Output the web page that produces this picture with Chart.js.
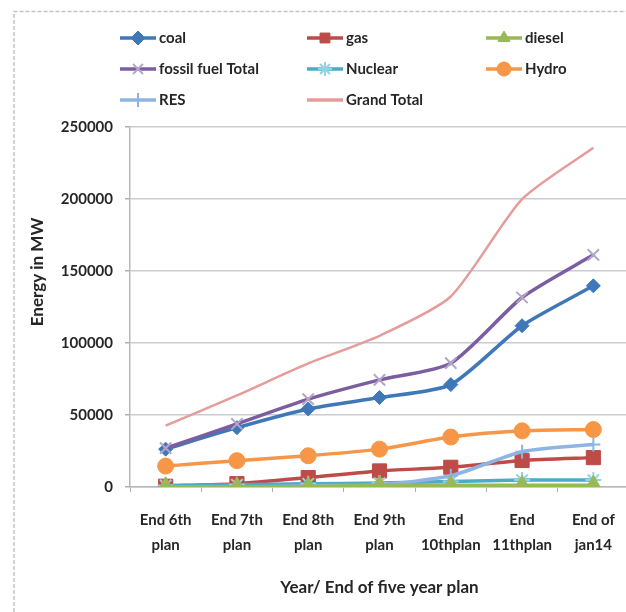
<!DOCTYPE html>
<html>
<head>
<meta charset="utf-8">
<script src="https://cdn.jsdelivr.net/npm/chart.js@4/dist/chart.umd.min.js"></script>
<style>
  html, body { margin: 0; padding: 0; background: #fff; overflow: hidden; }
  #wrap { position: relative; width: 640px; height: 612px; }
</style>
</head>
<body>
<div id="wrap"><canvas id="c"></canvas></div>
<script>
// Installed capacity (MW) at the end of each five year plan
const categories = [
  ['End 6th', 'plan'], ['End 7th', 'plan'], ['End 8th', 'plan'], ['End 9th', 'plan'],
  ['End', '10thplan'], ['End', '11thplan'], ['End of', 'jan14']
];
const coal        = [26300, 41200, 54200, 62100, 71100, 112000, 139700];
const gas         = [540, 2340, 6560, 11160, 13700, 18400, 20400];
const diesel      = [180, 170, 290, 1140, 1200, 1200, 1200];
const fossilTotal = [27000, 43800, 61000, 74400, 86000, 131600, 161200];
const nuclear     = [1100, 1570, 2230, 2720, 3900, 4780, 4780];
const hydro       = [14500, 18300, 21700, 26300, 34700, 39000, 39900];
const res         = [0, 20, 900, 1630, 7760, 24500, 29500];
const grandTotal  = [42600, 63600, 85800, 105000, 132300, 199900, 235600];
const yTicks      = [0, 50000, 100000, 150000, 200000, 250000];

const FONT = 'Lato, "Liberation Sans", sans-serif';
const TEXT = '#262626';

function series(label, data, color, style, radius, markerBorder, order) {
  return {
    label, data,
    borderColor: color,
    backgroundColor: color,
    pointBackgroundColor: color,
    pointBorderColor: markerBorder || color,
    pointBorderWidth: style === 'crossRot' || style === 'star' || style === 'cross' ? 2 : 1,
    pointStyle: style,
    pointRadius: radius,
    pointHoverRadius: radius,
    borderWidth: 3.5,
    tension: 0.22,
    fill: false,
    order
  };
}

// lower order is painted later (on top)
const datasets = [
  series('coal', coal, '#3f78b9', 'rectRot', 7, null, 8),
  series('gas', gas, '#be4b48', 'rect', 10, null, 7),
  series('diesel', diesel, '#98b954', 'triangle', 10, null, 0),
  series('fossil fuel Total', fossilTotal, '#7b5ea0', 'crossRot', 8, '#b3a6c8', 5),
  series('Nuclear', nuclear, '#4bacc6', 'star', 8, '#93d3e3', 4),
  series('Hydro', hydro, '#f79646', 'circle', 8, null, 3),
  series('RES', res, '#8eb4e3', 'cross', 7, null, 2),
  series('Grand Total', grandTotal, '#e59c9a', 'circle', 0, null, 1)
];
datasets[7].borderWidth = 2.5;

// Frame, grid legend and rotated value-axis title
const decorations = {
  id: 'decorations',
  afterDraw(chart) {
    const ctx = chart.ctx;
    ctx.save();
    // dashed outer frame
    ctx.strokeStyle = '#c4c4c4';
    ctx.lineWidth = 1.5;
    ctx.setLineDash([4, 2]);
    ctx.beginPath();
    ctx.moveTo(14, 612);
    ctx.lineTo(14, 11.5);
    ctx.lineTo(640, 11.5);
    ctx.stroke();
    ctx.setLineDash([]);

    // legend: three columns
    const colX = [120, 307, 486];
    const rowY = [38, 69, 100];
    chart.data.datasets.forEach((ds, i) => {
      const x = colX[i % 3], y = rowY[Math.floor(i / 3)];
      ctx.strokeStyle = ds.borderColor;
      ctx.lineWidth = 3.5;
      ctx.beginPath();
      ctx.moveTo(x, y);
      ctx.lineTo(x + 36, y);
      ctx.stroke();
      if (ds.pointRadius > 0 && Chart.helpers && Chart.helpers.drawPoint) {
        ctx.fillStyle = ds.pointBackgroundColor;
        ctx.strokeStyle = ds.pointBorderColor;
        ctx.lineWidth = ds.pointBorderWidth;
        Chart.helpers.drawPoint(ctx, {
          pointStyle: ds.pointStyle,
          radius: Math.min(ds.pointRadius, 7),
          rotation: 0,
          borderWidth: ds.pointBorderWidth
        }, x + 18, y);
      }
      ctx.fillStyle = TEXT;
      ctx.font = 'bold 15px ' + FONT;
      ctx.textBaseline = 'middle';
      ctx.textAlign = 'left';
      ctx.fillText(ds.label, x + 39, y);
    });

    // y-axis title
    ctx.translate(38, 272);
    ctx.rotate(-Math.PI / 2);
    ctx.fillStyle = TEXT;
    ctx.font = 'bold 17px ' + FONT;
    ctx.textAlign = 'center';
    ctx.textBaseline = 'middle';
    ctx.fillText('Energy in MW', 0, 0);
    ctx.restore();
  }
};

new Chart(document.getElementById('c'), {
  type: 'line',
  data: { labels: categories, datasets },
  options: {
    responsive: true,
    maintainAspectRatio: false,
    animation: false,
    layout: { padding: { left: 14, right: 8, top: 127, bottom: 0 } },
    plugins: {
      legend: { display: false },
      tooltip: { enabled: false }
    },
    scales: {
      x: {
        type: 'category',
        offset: true,
        afterFit(s) { s.height = 125; },
        grid: {
          offset: true,
          drawOnChartArea: false,
          tickLength: 5,
          color: '#b0b0b0'
        },
        border: { color: '#b8b8b8', width: 1.5 },
        ticks: {
          color: TEXT,
          font: { family: FONT, size: 15, weight: 'bold', lineHeight: 1.65 },
          padding: 16,
          maxRotation: 0,
          autoSkip: false
        },
        title: {
          display: true,
          text: 'Year/ End of five year plan',
          color: TEXT,
          font: { family: FONT, size: 17, weight: 'bold' },
          padding: { top: 0, bottom: 14 }
        }
      },
      y: {
        min: 0,
        max: 250000,
        afterFit(s) { s.width = 116; },
        afterBuildTicks(s) { s.ticks = yTicks.map(v => ({ value: v })); },
        grid: {
          color: '#c9ccd3',
          lineWidth: 1.5,
          tickLength: 5,
          tickColor: '#b0b0b0'
        },
        border: { color: '#b8b8b8', width: 1.5 },
        ticks: {
          color: TEXT,
          font: { family: FONT, size: 15, weight: 'bold' },
          padding: 12,
          callback: v => String(v)
        }
      }
    }
  },
  plugins: [decorations]
});
</script>
</body>
</html>
